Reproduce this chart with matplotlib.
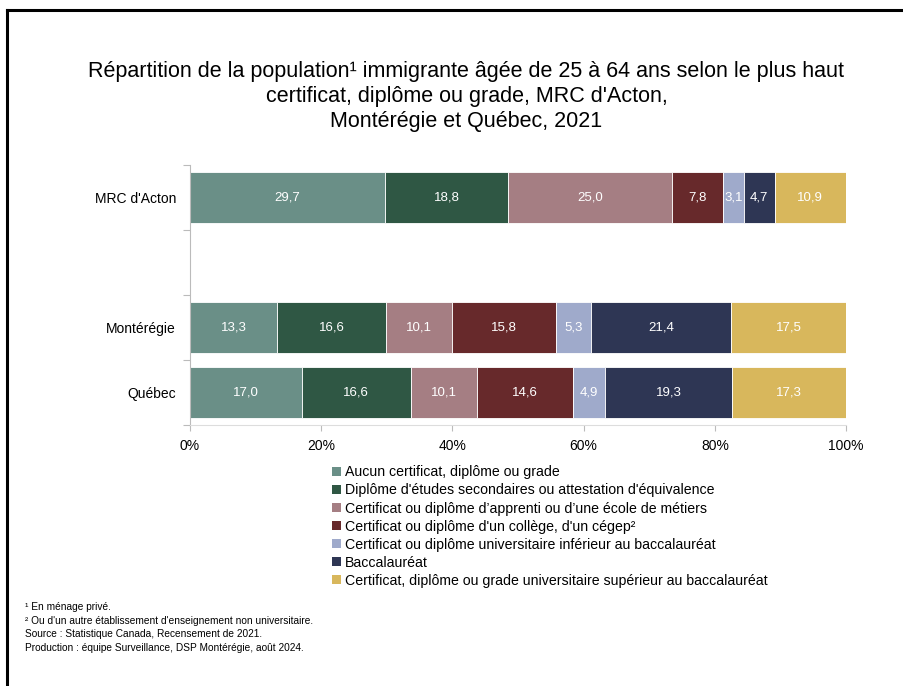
import numpy as np
import matplotlib.pyplot as plt
from matplotlib.lines import Line2D
from matplotlib.patches import Patch

regions = ["MRC d'Acton", "", "Montérégie", "Québec"]
categories = [
    "Aucun certificat, diplôme ou grade",
    "Diplôme d'études secondaires ou attestation d'équivalence",
    "Certificat ou diplôme d\u2019apprenti ou d\u2019une école de métiers",
    "Certificat ou diplôme d'un collège, d'un cégep²",
    "Certificat ou diplôme universitaire inférieur au baccalauréat",
    "Baccalauréat",
    "Certificat, diplôme ou grade universitaire supérieur au baccalauréat",
]
acton = [29.7, 18.8, 25.0, 7.8, 3.1, 4.7, 10.9]
monteregie = [13.3, 16.6, 10.1, 15.8, 5.3, 21.4, 17.5]
quebec = [17.0, 16.6, 10.1, 14.6, 4.9, 19.3, 17.3]
colors = ['#6A8F87', '#2F5744', '#A57E83', '#67292B', '#9FAACB', '#2E3654', '#D8B75C']

values = np.array([acton, [0] * 7, monteregie, quebec])
totals = values.sum(axis=1, keepdims=True)
shares = values / np.where(totals == 0, 1, totals) * 100

plt.rcParams['font.family'] = ['Liberation Sans', 'DejaVu Sans']

fig = plt.figure(figsize=(9.04, 6.86), dpi=100)
ax = fig.add_axes([0.210, 0.3805, 0.726, 0.379])

y = np.arange(len(regions))
left = np.zeros(len(regions))
for i, cat in enumerate(categories):
    w = shares[:, i]
    ax.barh(y, w, left=left, height=0.78, color=colors[i], edgecolor='white', linewidth=0.6)
    for j in range(len(regions)):
        if values[j, i] > 0:
            ax.text(left[j] + w[j] / 2, y[j], f"{values[j, i]:.1f}".replace('.', ','),
                    ha='center', va='center', color='white', fontsize=9.5)
    left += w

# category bands with tick marks on their borders
ax.set_ylim(len(regions) - 0.5, -0.5)
ax.set_xlim(0, 100)
ax.set_yticks(np.arange(-0.5, len(regions)), minor=False)
ax.set_yticklabels([])
ax.set_yticks(y, minor=True)
ax.set_yticklabels(regions, minor=True, fontsize=10)
ax.tick_params(axis='y', which='minor', length=0, pad=10)
ax.tick_params(axis='y', which='major', length=5, color='#BBBBBB')
ax.set_xticks(np.arange(0, 101, 20))
ax.set_xticklabels([f"{v}%" for v in range(0, 101, 20)], fontsize=10)
ax.tick_params(axis='x', length=4, color='#BBBBBB', pad=6)
for s in ['top', 'right']:
    ax.spines[s].set_visible(False)
ax.spines['left'].set_color('#BBBBBB')
ax.spines['bottom'].set_color('#DDDDDD')

fig.text(0.516, 0.860,
         "Répartition de la population¹ immigrante âgée de 25 à 64 ans selon le plus haut\n"
         "certificat, diplôme ou grade, MRC d'Acton,\nMontérégie et Québec, 2021",
         ha='center', va='center', fontsize=15.5, linespacing=1.25)

handles = [Patch(facecolor=c, edgecolor='none') for c in colors]
fig.legend(handles, categories, loc='upper left', bbox_to_anchor=(0.361, 0.330),
           frameon=False, handlelength=0.6, handleheight=0.6,
           handletextpad=0.3, labelspacing=0.29, borderaxespad=0,
           prop={'size': 10.2})

notes = ["¹ En ménage privé.",
         "² Ou d'un autre établissement d'enseignement non universitaire.",
         "Source : Statistique Canada, Recensement de 2021.",
         "Production : équipe Surveillance, DSP Montérégie, août 2024."]
for k, n in enumerate(notes):
    fig.text(0.028, 0.115 - k * 0.0197, n, fontsize=7.3, va='center')

fig.add_artist(Line2D([0.008, 1.0], [0.985, 0.985], color='black', lw=2.2, transform=fig.transFigure))
fig.add_artist(Line2D([0.008, 0.008], [0.0, 0.985], color='black', lw=2.2, transform=fig.transFigure))

fig.savefig("out.png", dpi=100, facecolor='white')
